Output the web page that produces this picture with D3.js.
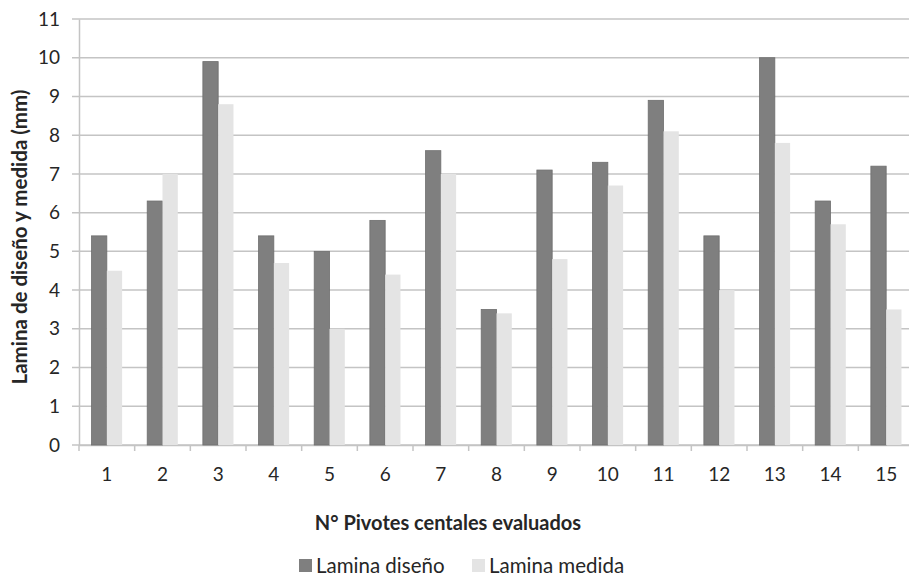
<!DOCTYPE html>
<html>
<head>
<meta charset="utf-8">
<script src="https://cdn.jsdelivr.net/npm/d3@7"></script>
<style>
  body { margin: 0; background: #fff; }
  text { font-family: Lato, "Open Sans", sans-serif; fill: #262626; }
</style>
</head>
<body>
<div id="chart"></div>
<script>
const pivotes = ["1", "2", "3", "4", "5", "6", "7", "8", "9", "10", "11", "12", "13", "14", "15"];
const laminaDiseno = [5.4, 6.3, 9.9, 5.4, 5.0, 5.8, 7.6, 3.5, 7.1, 7.3, 8.9, 5.4, 10.0, 6.3, 7.2];
const laminaMedida = [4.5, 7.0, 8.8, 4.7, 3.0, 4.4, 7.0, 3.4, 4.8, 6.7, 8.1, 4.0, 7.8, 5.7, 3.5];
const yTicks = [0, 1, 2, 3, 4, 5, 6, 7, 8, 9, 10, 11];
const seriesNames = ["Lamina diseño", "Lamina medida"];
const seriesColors = ["#7f7f7f", "#e4e4e4"];

const w = 909;
const h = 577;
const plotLeft = 79;
const plotRight = 914;
const plotTop = 19;
const plotBottom = 445;

const svg = d3.select("#chart").append("svg").attr("width", w).attr("height", h);

const x = d3.scaleBand().domain(pivotes).range([plotLeft, plotRight]).paddingInner(0).paddingOuter(0);
const y = d3.scaleLinear().domain([0, 11]).range([plotBottom, plotTop]);
const inner = d3.scaleBand().domain([0, 1]).range([0, x.bandwidth()]).paddingInner(0).paddingOuter(0.82);

// gridlines
svg.append("g")
  .selectAll("line")
  .data(yTicks)
  .join("line")
  .attr("x1", plotLeft - 7)
  .attr("x2", plotRight)
  .attr("y1", (d) => y(d))
  .attr("y2", (d) => y(d))
  .attr("stroke", "#c4c4c4")
  .attr("stroke-width", 1.5);

// y axis
const yAxis = d3.axisLeft(y).tickValues(yTicks).tickSize(0).tickPadding(19);
svg.append("g")
  .attr("transform", "translate(" + plotLeft + ",0)")
  .call(yAxis)
  .call((g) => g.select(".domain").attr("stroke", "#c4c4c4").attr("stroke-width", 1.5))
  .call((g) => g.selectAll("text").attr("font-size", 19).attr("fill", "#262626"));

// x axis
const xTickPos = pivotes.map((d) => x(d)).concat([plotRight]);
svg.append("g")
  .selectAll("line")
  .data(xTickPos)
  .join("line")
  .attr("x1", (d) => d)
  .attr("x2", (d) => d)
  .attr("y1", plotBottom)
  .attr("y2", plotBottom + 6)
  .attr("stroke", "#c4c4c4")
  .attr("stroke-width", 1.5);

const xAxis = d3.axisBottom(x).tickSize(0).tickPadding(23);
svg.append("g")
  .attr("transform", "translate(0," + plotBottom + ")")
  .call(xAxis)
  .call((g) => g.select(".domain").attr("stroke", "#c4c4c4").attr("stroke-width", 1.5))
  .call((g) => g.selectAll("text").attr("font-size", 19).attr("fill", "#262626"));

// bars
const series = [laminaDiseno, laminaMedida];
series.forEach((vals, s) => {
  svg.append("g")
    .selectAll("rect")
    .data(vals)
    .join("rect")
    .attr("x", (d, i) => x(pivotes[i]) + inner(s))
    .attr("y", (d) => y(d))
    .attr("width", inner.bandwidth())
    .attr("height", (d) => y(0) - y(d))
    .attr("fill", seriesColors[s])
    .attr("stroke", s == 0 ? "#6e6e6e" : "none")
    .attr("stroke-width", 0.8);
});

// axis titles
svg.append("text")
  .attr("transform", "translate(27," + 237 + ") rotate(-90)")
  .attr("text-anchor", "middle")
  .attr("font-size", 20.5)
  .attr("font-weight", "bold")
  .text("Lamina de diseño y medida (mm)");

svg.append("text")
  .attr("x", 448)
  .attr("y", 530)
  .attr("text-anchor", "middle")
  .attr("font-size", 20)
  .attr("font-weight", "bold")
  .text("N° Pivotes centales evaluados");

// legend
const legend = svg.append("g").attr("id", "legend");
const legendX = [299, 472];
seriesNames.forEach((name, s) => {
  legend.append("rect")
    .attr("x", legendX[s])
    .attr("y", 559)
    .attr("width", 13)
    .attr("height", 13)
    .attr("fill", seriesColors[s]);
  legend.append("text")
    .attr("x", legendX[s] + 17)
    .attr("y", 573)
    .attr("font-size", 20.5)
    .text(name);
});
</script>
</body>
</html>
